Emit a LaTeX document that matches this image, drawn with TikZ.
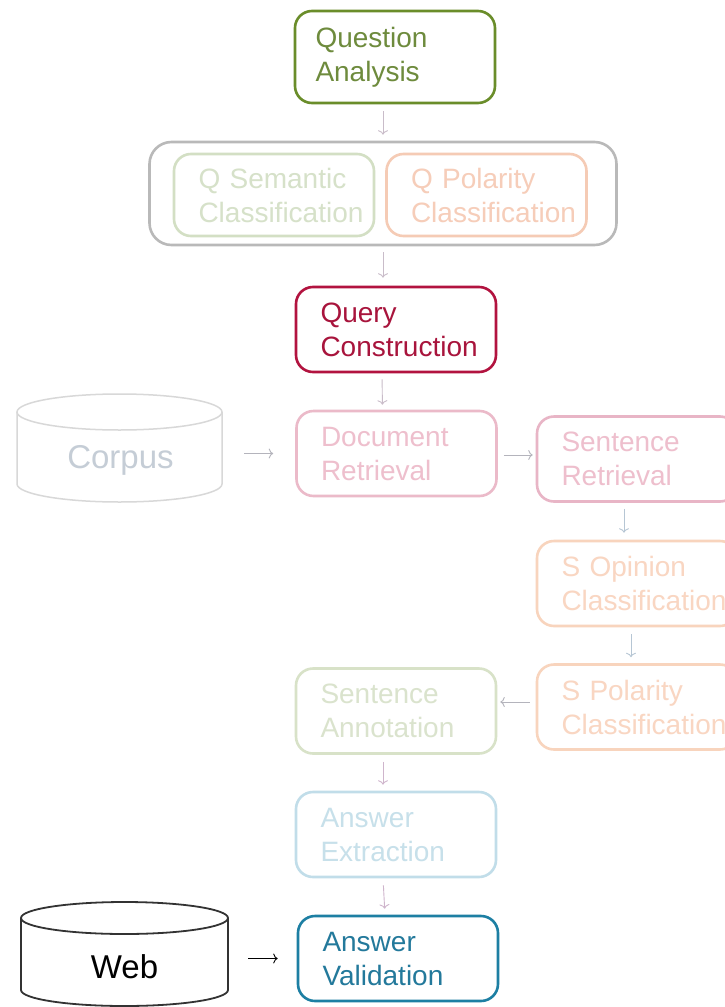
\documentclass[tikz,border=0pt]{standalone}
\usepackage{fontspec}
\setmainfont{Liberation Sans}
\usetikzlibrary{arrows.meta}
\definecolor{cQA}{HTML}{6A8D2A}
\definecolor{cQAt}{HTML}{6E8B3D}
\definecolor{cGrp}{HTML}{B9B9B9}
\definecolor{cQsem}{HTML}{D3DFC4}
\definecolor{cQsemt}{HTML}{D6E1C9}
\definecolor{cQpol}{HTML}{F5CBB5}
\definecolor{cQpolt}{HTML}{F6CDB9}
\definecolor{cQC}{HTML}{B2133F}
\definecolor{cQCt}{HTML}{A8143C}
\definecolor{cCorp}{HTML}{D8D8D8}
\definecolor{cCorpt}{HTML}{C5CDD6}
\definecolor{cDR}{HTML}{EBBAC9}
\definecolor{cDRt}{HTML}{EEBFCD}
\definecolor{cSR}{HTML}{E8B5C6}
\definecolor{cSO}{HTML}{F8D4BD}
\definecolor{cSOt}{HTML}{F9D6C2}
\definecolor{cSA}{HTML}{D8E2C8}
\definecolor{cSAt}{HTML}{DAE3CD}
\definecolor{cAE}{HTML}{C1DDE9}
\definecolor{cAEt}{HTML}{C7E0EA}
\definecolor{cAV}{HTML}{1D7FA3}
\definecolor{cAVt}{HTML}{23799B}
\definecolor{aPink}{HTML}{C9BCC9}
\definecolor{aGray}{HTML}{B4B4BC}
\definecolor{aBlue}{HTML}{B6C6D4}
\definecolor{aMauve}{HTML}{CFB5CC}
\begin{document}
\begin{tikzpicture}[x=1pt,y=-1pt,
  box/.style={draw, rounded corners=17pt, line width=2.6pt,
    minimum width=200pt, minimum height=85pt, text width=151pt,
    align=left, inner xsep=0pt, inner ysep=0pt,
    font=\fontsize{28}{34}\selectfont},
  dbtext/.style={minimum width=205pt, minimum height=60pt, inner sep=0pt,
    font=\fontsize{33}{38}\selectfont},
  arr/.style={-{To[length=4.5pt,width=10pt]}, line width=0.9pt},
  cyl/.style={line width=1.5pt}]
\clip (0,0) rectangle (725,1007);
\fill[white] (0,0) rectangle (725,1007);

% group box
\node[draw=cGrp, line width=2.6pt, rounded corners=22pt,
      minimum width=467pt, minimum height=103pt] (grp) at (383,193.5) {};

% process boxes
\node[box, draw=cQA, text=cQAt, minimum height=92pt, text width=159pt] (qa) at (395,57) {Question\\Analysis};
\node[box, draw=cQsem, text=cQsemt, minimum height=82pt] (qsem) at (274,195) {Q Semantic\\Classification};
\node[box, draw=cQpol, text=cQpolt, minimum height=82pt] (qpol) at (486.5,195) {Q Polarity\\Classification};
\node[box, draw=cQC, text=cQCt] (qc) at (396,329.5) {Query\\Construction};
\node[box, draw=cDR, text=cDRt] (dr) at (396.5,453.5) {Document\\Retrieval};
\node[box, draw=cSR, text=cDRt] (sr) at (637,459) {Sentence\\Retrieval};
\node[box, draw=cSO, text=cSOt] (soc) at (637,583.5) {S Opinion\\Classification};
\node[box, draw=cSO, text=cSOt] (spc) at (637,707) {S Polarity\\Classification};
\node[box, draw=cSA, text=cSAt] (sa) at (396,711) {Sentence\\Annotation};
\node[box, draw=cAE, text=cAEt] (ae) at (396,834.5) {Answer\\Extraction};
\node[box, draw=cAV, text=cAVt] (av) at (398,958.5) {Answer\\Validation};

% Corpus cylinder
\draw[cyl, draw=cCorp] (119.5,412) ellipse [x radius=102.5, y radius=18];
\draw[cyl, draw=cCorp] (17,412) -- (17,484)
   arc[start angle=180, end angle=0, x radius=102.5, y radius=18] -- (222,412);
\node[dbtext, text=cCorpt] (corpus) at (120.5,460) {Corpus};

% Web cylinder
\draw[cyl, draw=black!80, line width=1.8pt] (124.5,918) ellipse [x radius=103.5, y radius=16];
\draw[cyl, draw=black!80, line width=1.8pt] (21,918) -- (21,990)
   arc[start angle=180, end angle=0, x radius=103.5, y radius=16] -- (228,918);
\node[dbtext, text=black, minimum width=207pt] (web) at (124.5,967) {Web};

% connectors
\draw[arr, aPink, shorten <=7pt, shorten >=6pt] (qa.south -| grp.north) -- (grp.north);
\draw[arr, aPink, shorten <=6pt, shorten >=8pt] (grp.south) -- (grp.south |- qc.north);
\draw[arr, aPink, shorten <=6pt, shorten >=5pt] ([xshift=-14pt]qc.south) -- ([xshift=-14pt]dr.north);
\draw[arr, aGray, shorten <=21pt, shorten >=22pt] (corpus.east |- dr.west) -- (dr.west);
\draw[arr, aGray, shorten <=6pt, shorten >=3pt] ([yshift=-1.5pt]dr.east) -- ([yshift=-1.5pt]dr.east -| sr.west);
\draw[arr, aBlue, shorten <=6pt, shorten >=7pt] ([xshift=-13pt]sr.south) -- ([xshift=-13pt]soc.north);
\draw[arr, aBlue, shorten <=7pt, shorten >=6pt] ([xshift=-6pt]soc.south) -- ([xshift=-6pt]spc.north);
\draw[arr, aGray, shorten <=6pt, shorten >=3pt] ([yshift=5pt]spc.west) -- ([yshift=5pt]spc.west -| sa.east);
\draw[arr, aMauve, shorten <=7pt, shorten >=6pt] ([xshift=-13pt]sa.south) -- ([xshift=-13pt]ae.north);
\draw[arr, aMauve, shorten <=7pt, shorten >=6pt] ([xshift=-13pt]ae.south) -- ([xshift=-13pt]av.north);
\draw[arr, black, shorten <=20pt, shorten >=19pt] (web.east |- av.west) -- (av.west);
\end{tikzpicture}
\end{document}
